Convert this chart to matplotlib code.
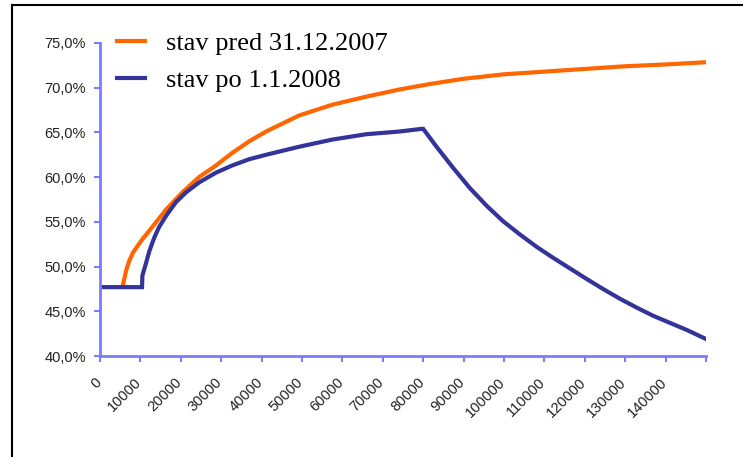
import matplotlib
matplotlib.use("Agg")
import matplotlib.pyplot as plt
from matplotlib.lines import Line2D
from matplotlib.ticker import FuncFormatter
from matplotlib.transforms import ScaledTranslation

# values
pred_x = [5600, 6500, 7200, 8200, 10400, 12900, 16400, 20400, 24500, 28700,
          32700, 36900, 41100, 49300, 57500, 65900, 74100, 81500, 90000,
          100000, 110000, 120000, 130000, 140000, 150000]
pred_y = [47.8, 49.6, 50.6, 51.6, 53.0, 54.4, 56.4, 58.3, 60.0, 61.3,
          62.7, 64.0, 65.1, 66.9, 68.1, 69.0, 69.8, 70.4, 71.0,
          71.5, 71.8, 72.1, 72.4, 72.6, 72.85]

po_x = [0, 10400, 10500, 11400, 12200, 13400, 14600, 16400, 18800, 21300,
        24500, 28700, 32700, 36900, 41100, 49300, 57500, 65900, 74100,
        79600, 80000, 83300, 87300, 91500, 95700, 99700, 103900, 108100,
        112100, 116300, 120500, 124500, 128700, 132900, 136900, 141100,
        145300, 150000]
po_y = [47.7, 47.7, 49.0, 50.4, 51.7, 53.2, 54.4, 55.7, 57.2, 58.3,
        59.4, 60.5, 61.3, 62.0, 62.5, 63.4, 64.2, 64.8, 65.1,
        65.4, 65.4, 63.4, 61.1, 58.8, 56.8, 55.1, 53.6, 52.2,
        51.0, 49.8, 48.6, 47.5, 46.4, 45.4, 44.5, 43.7,
        42.9, 41.9]

x_ticks = list(range(0, 150001, 10000))
x_labels = [str(t) for t in x_ticks[:-1]] + [""]
y_ticks = [40, 45, 50, 55, 60, 65, 70, 75]

names = ["stav pred 31.12.2007", "stav po 1.1.2008"]
orange = "#ff6600"
blue = "#333399"
axis_col = "#7b7bff"

fig = plt.figure(figsize=(7.43, 4.57), dpi=100)
ax = fig.add_axes([100 / 743, 1 - 356 / 457, 606 / 743, 313 / 457])

ax.plot(pred_x, pred_y, color=orange, lw=3, solid_joinstyle="round")
ax.plot(po_x, po_y, color=blue, lw=3, solid_joinstyle="miter")

ax.set_xlim(0, 150000)
ax.set_ylim(40, 75)
ax.set_xticks(x_ticks)
ax.set_xticklabels(x_labels, rotation=45, ha="right", rotation_mode="anchor")
ax.set_yticks(y_ticks)
ax.yaxis.set_major_formatter(FuncFormatter(lambda v, p: f"{v:.1f}%".replace(".", ",")))

for s in ["top", "right"]:
    ax.spines[s].set_visible(False)
for s in ["left", "bottom"]:
    ax.spines[s].set_color(axis_col)
    ax.spines[s].set_linewidth(2)
ax.tick_params(colors=axis_col, width=1.5, length=4, labelcolor="#222222",
               labelsize=10.5)
ax.tick_params(axis="x", pad=10)
ax.tick_params(axis="y", pad=6)
shift = ScaledTranslation(-6 / 100, 0, fig.dpi_scale_trans)
for lab in ax.get_xticklabels():
    lab.set_family("Liberation Sans")
    lab.set_transform(lab.get_transform() + shift)
for lab in ax.get_yticklabels():
    lab.set_family("Liberation Sans")

handles = [Line2D([], [], color=orange, lw=3), Line2D([], [], color=blue, lw=3)]
fig.legend(handles, names, loc="upper left",
           bbox_to_anchor=(117 / 743, 1 - 32 / 457), frameon=False,
           prop={"family": "Liberation Serif", "size": 19},
           handlelength=1.05, handletextpad=0.8, labelspacing=0.5,
           borderpad=0, borderaxespad=0)

# outer frame (only top and left edges are visible)
fig.add_artist(Line2D([12 / 743, 12 / 743], [0, 1 - 5 / 457], color="black", lw=1.5))
fig.add_artist(Line2D([12 / 743, 1], [1 - 5 / 457, 1 - 5 / 457], color="black", lw=1.5))

fig.savefig("out.png", dpi=100)
